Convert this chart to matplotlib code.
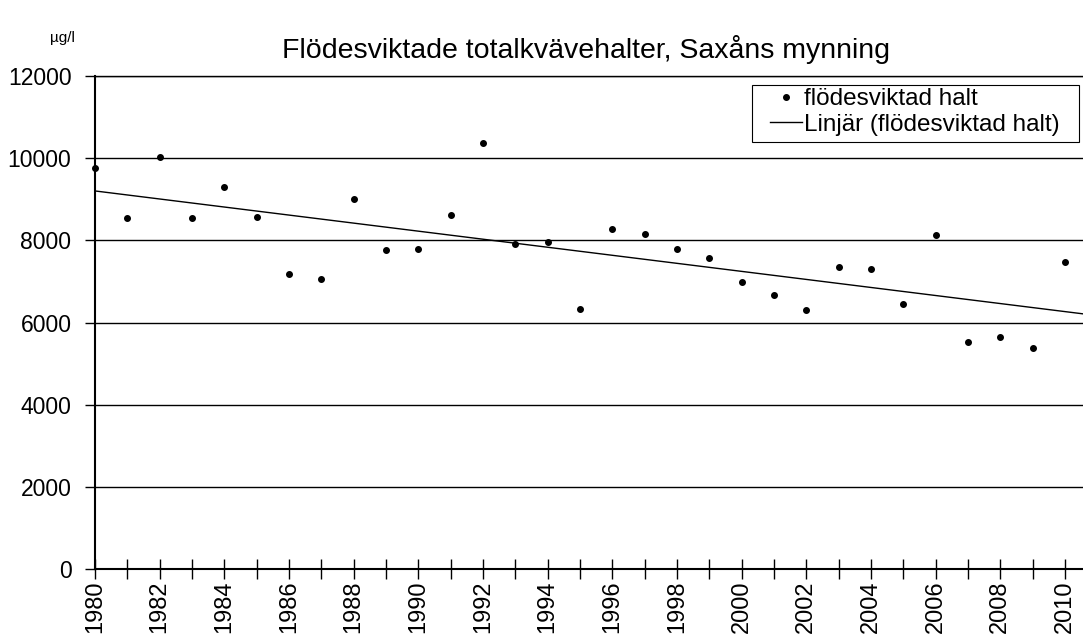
import matplotlib
matplotlib.use('Agg')
import matplotlib.pyplot as plt
from matplotlib.patches import Rectangle
import numpy as np

plt.rcParams['font.family'] = ['Liberation Sans', 'DejaVu Sans']

years = np.arange(1980, 2011)
halt = [9770, 8540, 10030, 8540, 9310, 8560, 7180, 7050, 9010, 7760,
        7790, 8610, 10370, 7900, 7970, 6330, 8280, 8160, 7780, 7580,
        6980, 6660, 6300, 7350, 7310, 6460, 8140, 5530, 5640, 5380, 7480]

yticks = [0, 2000, 4000, 6000, 8000, 10000, 12000]
xlabels = years[::2]

W, H = 1083, 637


def Main():
    fig = plt.figure(figsize=(W / 100, H / 100), dpi=100)
    ax = fig.add_axes([95 / W, 1 - 569 / H, 1 - 95 / W, (569 - 76) / H])

    xmax = 2010.56
    k, m = np.polyfit(years, halt, 1)
    xt = np.array([1980, xmax])

    ax.plot(years, halt, 'o', color='black', markersize=4, label='flödesviktad halt',
            clip_on=False, zorder=3)
    ax.plot(xt, k * xt + m, '-', color='black', lw=1, label='Linjär (flödesviktad halt)')

    ax.set_xlim(1980, xmax)
    ax.set_ylim(0, 12000)
    ax.set_yticks(yticks)
    ax.set_xticks(xlabels)
    ax.set_xticklabels([str(y) for y in xlabels], rotation=90)
    ax.set_xticks(years[1::2], minor=True)
    ax.yaxis.grid(True, color='black', lw=1)
    ax.set_axisbelow(True)

    ax.tick_params(axis='x', which='both', direction='inout', length=14, width=1, labelsize=17, pad=1)
    ax.tick_params(axis='y', direction='out', length=7, width=1, labelsize=16.5, pad=10)
    ax.spines['right'].set_visible(False)
    ax.spines['top'].set_linewidth(1)
    ax.spines['left'].set_linewidth(1.5)
    ax.spines['bottom'].set_linewidth(1.5)

    fig.text(586 / W, 1 - 50 / H, 'Flödesviktade totalkvävehalter, Saxåns mynning',
             ha='center', va='center', fontsize=20.5)
    fig.text(62 / W, 1 - 38 / H, 'µg/l', ha='center', va='center', fontsize=11)

    # legend box drawn separately (wider side padding than matplotlib allows)
    box = Rectangle((752 / W, 1 - 142 / H), (1079 - 752) / W, (142 - 85) / H,
                    transform=fig.transFigure, facecolor='white', edgecolor='black',
                    lw=0.8, zorder=5)
    fig.patches.append(box)
    leg = fig.legend(*ax.get_legend_handles_labels(), loc='upper left',
                     bbox_to_anchor=(770 / W, 1 - 88 / H), fontsize=17.5, frameon=False,
                     borderpad=0, handlelength=1.3, handletextpad=0.1, labelspacing=0.15,
                     borderaxespad=0)
    leg.set_zorder(6)

    fig.savefig('out.png', dpi=100)


if __name__ == "__main__":
    Main()
